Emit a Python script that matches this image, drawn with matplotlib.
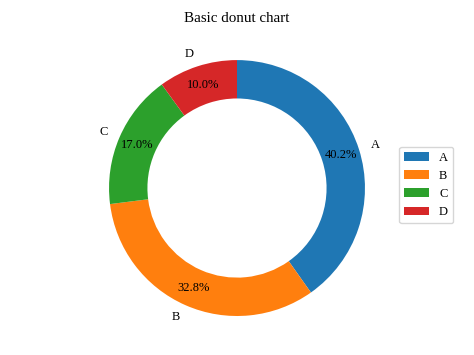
import matplotlib.pyplot as plt

labels = ["A", "B", "C", "D"]
sizes = [40.2, 32.8, 17.0, 10.0]
colors = ["#1f77b4", "#ff7f0e", "#2ca02c", "#d62728"]

plt.rcParams["font.family"] = ["Liberation Serif", "DejaVu Serif"]
plt.rcParams["font.size"] = 9

fig = plt.figure(figsize=(4.74, 3.55), dpi=100)
ax = fig.add_axes([0.203, 0.0738, 0.594, 0.793])

wedges, texts, autotexts = ax.pie(
    sizes, labels=labels, colors=colors, autopct="%1.1f%%",
    startangle=90, counterclock=False, pctdistance=0.85,
    wedgeprops=dict(width=0.3))
ax.set_xlim(-1.1, 1.1)
ax.set_ylim(-1.1, 1.1)
ax.set_aspect("equal")

fig.text(0.5, 0.949, "Basic donut chart", ha="center", va="center", fontsize=10.8)

fig.legend(wedges, labels, loc="center left", borderaxespad=0,
           bbox_to_anchor=(399 / 474, 1 - 185 / 355))

fig.savefig("out.png", dpi=100)
